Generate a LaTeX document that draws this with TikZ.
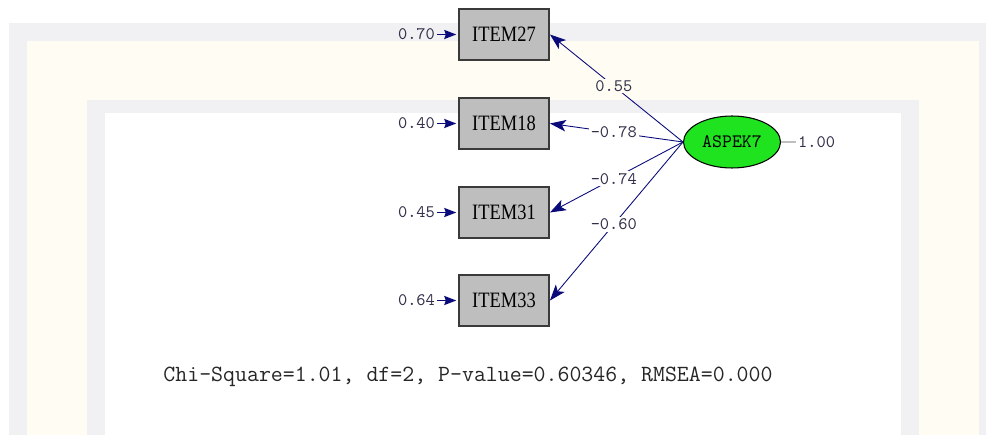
\documentclass[tikz,border=0pt]{standalone}
\usepackage{fontspec}
\setmainfont{Liberation Serif}
\newfontfamily\itemfont[FakeStretch=0.84]{Liberation Serif}
\usetikzlibrary{arrows.meta,positioning,shapes.geometric}
\definecolor{Navy}{HTML}{22228C}
\definecolor{TipBlue}{HTML}{0A0A7A}
\definecolor{BoxGray}{HTML}{BEBEBE}
\definecolor{BoxEdge}{HTML}{3A3A3A}
\definecolor{LatGreen}{HTML}{1FE31F}
\definecolor{NumInk}{HTML}{30304A}
\definecolor{FrameGray}{HTML}{F1F1F4}
\definecolor{Cream}{HTML}{FFFDF3}
\tikzset{
  observed/.style={
    rectangle, draw=BoxEdge, line width=1.1pt, fill=BoxGray,
    minimum width=1.8cm, minimum height=1.02cm, inner sep=0pt,
    font=\itemfont\fontsize{12.5}{14}\selectfont
  },
  latent/.style={
    ellipse, draw=black, line width=0.6pt, fill=LatGreen,
    minimum width=1.94cm, minimum height=1.04cm, inner sep=0pt,
    font=\ttfamily\fontsize{10.8}{12}\selectfont
  },
  num/.style={text=NumInk, inner sep=1pt, font=\ttfamily\fontsize{10}{11}\selectfont},
  loading/.style={-{Stealth[length=3.2mm,width=2.3mm,inset=0.8mm]}, draw=Navy,
    line width=0.5pt, color=TipBlue},
  errarrow/.style={-{Stealth[length=2.4mm,width=1.8mm,inset=0.3mm]}, draw=Navy,
    line width=1pt, color=TipBlue, shorten >=1pt}
}

\begin{document}
\begin{tikzpicture}[x=0.02cm,y=-0.02cm]
    \useasboundingbox (0,0) rectangle (986,435);
    % pale frames behind the path diagram
    \fill[FrameGray] (9,23) rectangle (986,435);
    \fill[Cream] (27,41) rectangle (979,435);
    \fill[FrameGray] (87,100) rectangle (919,435);
    \fill[white] (105,113) rectangle (901,435);

    % observed variables
    \node[observed] (i27) at (504,34.5) {ITEM27};
    \node[observed] (i18) at (504,123.5) {ITEM18};
    \node[observed] (i31) at (504,212.5) {ITEM31};
    \node[observed] (i33) at (504,300.5) {ITEM33};

    % latent factor
    \node[latent] (asp) at (732,142) {ASPEK7};
    \node[num,right=0.3cm of asp] (var) {1.00};
    \draw[gray!50,line width=0.7pt] (asp.east) -- (var.west);

    % error variances
    \node[num,left=0.42cm of i27] (e27) {0.70};
    \node[num,left=0.42cm of i18] (e18) {0.40};
    \node[num,left=0.42cm of i31] (e31) {0.45};
    \node[num,left=0.42cm of i33] (e33) {0.64};
    \draw[errarrow] (e27) -- (i27);
    \draw[errarrow] (e18) -- (i18);
    \draw[errarrow] (e31) -- (i31);
    \draw[errarrow] (e33) -- (i33);

    % factor loadings
    \draw[loading] (asp.west) -- node[num,pos=0.52,fill=Cream]{0.55} (i27.east);
    \draw[loading] (asp.west) -- node[num,pos=0.52,fill=white]{-0.78} (i18.east);
    \draw[loading] (asp.west) -- node[num,pos=0.52,fill=white]{-0.74} (i31.east);
    \draw[loading] (asp.west) -- node[num,pos=0.52,fill=white]{-0.60} (i33.east);

    % fit statistics
    \node[text=black!85,font=\ttfamily\fontsize{13.2}{15}\selectfont] (fit) at (468,377)
      {Chi-Square=1.01, df=2, P-value=0.60346, RMSEA=0.000};
  \end{tikzpicture}
\end{document}
